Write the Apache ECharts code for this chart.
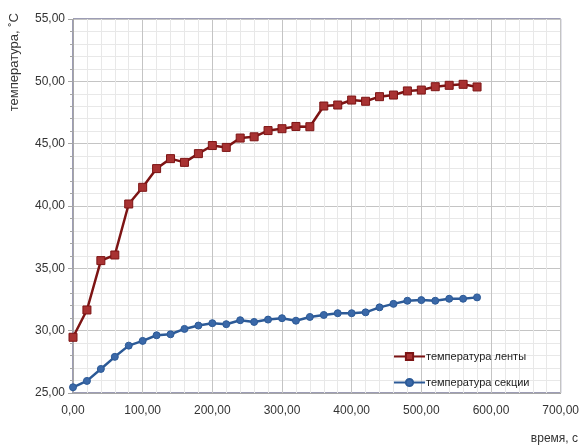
<!DOCTYPE html>
<html><head><meta charset="utf-8">
<script src="https://cdn.jsdelivr.net/npm/echarts@6/dist/echarts.min.js"></script>
<style>html,body{margin:0;padding:0;background:#fff}#c{width:582px;height:445px}</style>
</head><body><div id="c"></div>
<script>
const times = [0,20,40,60,80,100,120,140,160,180,200,220,240,260,280,300,320,340,360,380,400,420,440,460,480,500,520,540,560,580];
const tempBelt = [29.47,31.66,35.62,36.07,40.16,41.5,43.0,43.8,43.5,44.2,44.85,44.7,45.45,45.55,46.05,46.2,46.38,46.36,48.02,48.1,48.5,48.4,48.77,48.9,49.23,49.3,49.57,49.68,49.76,49.55];
const tempSection = [25.46,25.97,26.93,27.9,28.8,29.18,29.63,29.71,30.14,30.41,30.6,30.52,30.84,30.7,30.89,31.0,30.8,31.1,31.26,31.4,31.4,31.47,31.87,32.15,32.4,32.45,32.4,32.56,32.56,32.67];
const seriesNames = ['температура ленты','температура секции'];
const yTitle = 'температура, ˚С';
const xTitle = 'время, с';

const pair = (xs, ys) => xs.map((x, i) => [x, ys[i]]);
const fmt = v => v.toFixed(2).replace('.', ',');
const font = 'Liberation Sans, Arial, sans-serif';

const chart = echarts.init(document.getElementById('c'), null, {renderer: 'canvas'});
chart.setOption({
  animation: false,
  backgroundColor: '#ffffff',
  textStyle: {fontFamily: font},
  grid: {left: 73, right: 19, top: 19, bottom: 52, show: true, borderColor: '#3b3b6b', borderWidth: 1},
  xAxis: {
    type: 'value', min: 0, max: 700, interval: 100,
    axisLine: {show: true, lineStyle: {color: '#a6a6a6'}},
    axisTick: {show: false},
    axisLabel: {formatter: fmt, color: '#333', fontSize: 12, margin: 12, fontFamily: font},
    splitLine: {show: true, lineStyle: {color: '#c4c4c4', width: 1}},
    minorTick: {show: false, splitNumber: 5},
    minorSplitLine: {show: true, lineStyle: {color: '#e8e8e8', width: 1}}
  },
  yAxis: {
    type: 'value', min: 25, max: 55, interval: 5,
    axisLine: {show: true, lineStyle: {color: '#a6a6a6'}},
    axisTick: {show: true, inside: false, length: 5, lineStyle: {color: '#a6a6a6'}},
    minorTick: {show: true, splitNumber: 5, length: 3, lineStyle: {color: '#a6a6a6'}},
    axisLabel: {formatter: fmt, color: '#333', fontSize: 12, margin: 8, fontFamily: font},
    splitLine: {show: true, lineStyle: {color: '#c4c4c4', width: 1}},
    minorSplitLine: {show: true, lineStyle: {color: '#e8e8e8', width: 1}}
  },
  legend: {
    orient: 'vertical', left: 388, top: 346, itemWidth: 31, itemHeight: 9, itemGap: 15,
    textStyle: {fontSize: 11, color: '#222', fontFamily: font, padding: [0,0,0,-4]},
    data: seriesNames
  },
  graphic: [
    {type: 'text', left: 8, top: 13, rotation: Math.PI/2,
     style: {text: yTitle, fill: '#333', font: '13px ' + font}},
    {type: 'text', right: 4, top: 433,
     style: {text: xTitle, fill: '#333', font: '12px ' + font}}
  ],
  series: [
    {name: seriesNames[0], type: 'line', data: pair(times, tempBelt),
     symbol: 'rect', symbolSize: 8,
     lineStyle: {color: '#7d1414', width: 2.5},
     itemStyle: {color: '#a83232', borderColor: '#7d1414', borderWidth: 1}},
    {name: seriesNames[1], type: 'line', data: pair(times, tempSection),
     symbol: 'circle', symbolSize: 7,
     lineStyle: {color: '#2c5a97', width: 2.5},
     itemStyle: {color: '#3a68a8', borderColor: '#2c5a97', borderWidth: 1}}
  ]
});
</script></body></html>
